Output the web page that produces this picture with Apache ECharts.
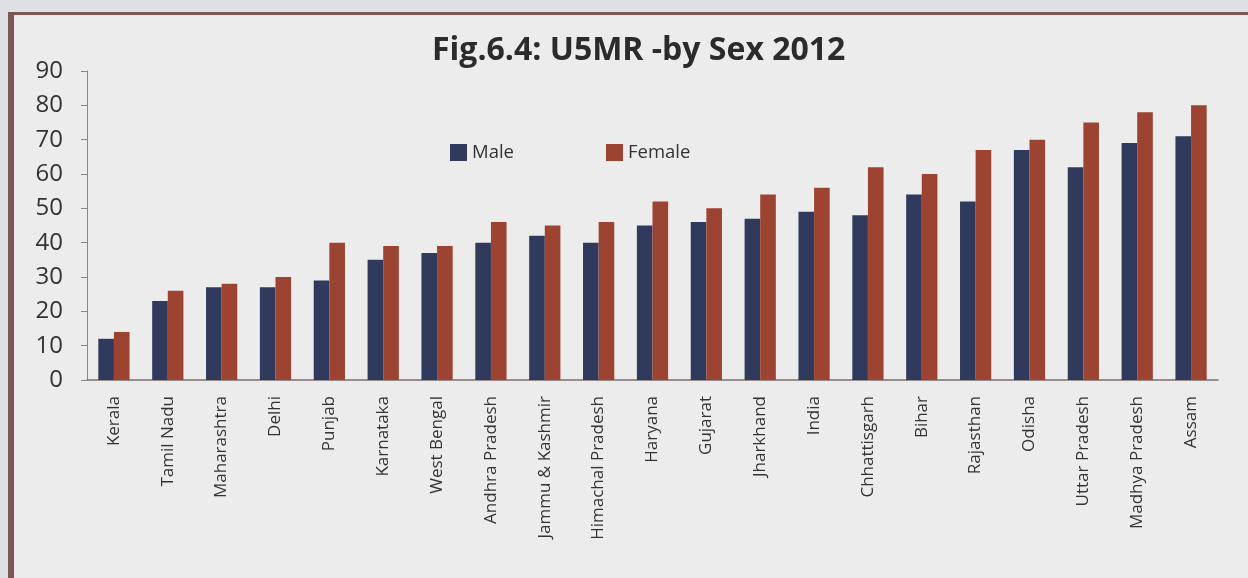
<!DOCTYPE html>
<html>
<head>
<meta charset="utf-8">
<script src="https://cdn.jsdelivr.net/npm/echarts@6/dist/echarts.min.js"></script>
<style>
  html, body { margin: 0; padding: 0; background: #dde0e4; width: 1248px; height: 578px; overflow: hidden; }
  #frame {
    position: absolute; left: 8px; top: 12px; width: 1240px; height: 580px;
    box-sizing: border-box; background: #ececec;
    border-left: 6px solid #7d5552; border-top: 3px solid #7d5552;
  }
  #chart { position: absolute; left: 0; top: 0; width: 1248px; height: 578px; }
</style>
</head>
<body>
<div id="frame"></div>
<div id="chart"></div>
<script>
const states = ['Kerala', 'Tamil Nadu', 'Maharashtra', 'Delhi', 'Punjab', 'Karnataka', 'West Bengal',
  'Andhra Pradesh', 'Jammu & Kashmir', 'Himachal Pradesh', 'Haryana', 'Gujarat', 'Jharkhand', 'India',
  'Chhattisgarh', 'Bihar', 'Rajasthan', 'Odisha', 'Uttar Pradesh', 'Madhya Pradesh', 'Assam']
const male = [12, 23, 27, 27, 29, 35, 37, 40, 42, 40, 45, 46, 47, 49, 48, 54, 52, 67, 62, 69, 71]
const female = [14, 26, 28, 30, 40, 39, 39, 46, 45, 46, 52, 50, 54, 56, 62, 60, 67, 70, 75, 78, 80]
const yTicks = { min: 0, max: 90, interval: 10 }

const chart = echarts.init(document.getElementById('chart'))
chart.setOption({
  backgroundColor: 'transparent',
  animation: false,
  title: {
    text: 'Fig.6.4: U5MR -by Sex 2012',
    left: 427, top: 30,
    textStyle: { fontFamily: 'Open Sans', fontWeight: 'bold', fontSize: 32, color: '#2b2b2b' },
  },
  legend: {
    left: 445, top: 138,
    itemWidth: 17, itemHeight: 17, itemGap: 92,
    icon: 'rect',
    textStyle: { fontFamily: 'Open Sans', fontSize: 18.5, color: '#333' },
    data: ['Male', 'Female'],
  },
  grid: { left: 87, right: 30, top: 71, height: 309 },
  xAxis: {
    type: 'category',
    data: states,
    axisLine: { lineStyle: { color: '#7a6e6c', width: 1.5 } },
    axisTick: { length: 6, lineStyle: { color: '#888' } },
    axisLabel: {
      rotate: 90, margin: 16, interval: 0,
      fontFamily: 'Open Sans', fontSize: 17, color: '#333',
    },
  },
  yAxis: {
    type: 'value',
    min: yTicks.min, max: yTicks.max, interval: yTicks.interval,
    splitLine: { show: false },
    axisLine: { show: true, lineStyle: { color: '#888' } },
    axisTick: { show: true, length: 6, lineStyle: { color: '#888' } },
    axisLabel: { margin: 24, fontFamily: 'Open Sans', fontSize: 24, color: '#333' },
  },
  series: [
    { name: 'Male', type: 'bar', data: male, barGap: '0%', barCategoryGap: '42%', itemStyle: { color: '#2f3a5c' } },
    { name: 'Female', type: 'bar', data: female, itemStyle: { color: '#9c4431' } },
  ],
})
</script>
</body>
</html>
